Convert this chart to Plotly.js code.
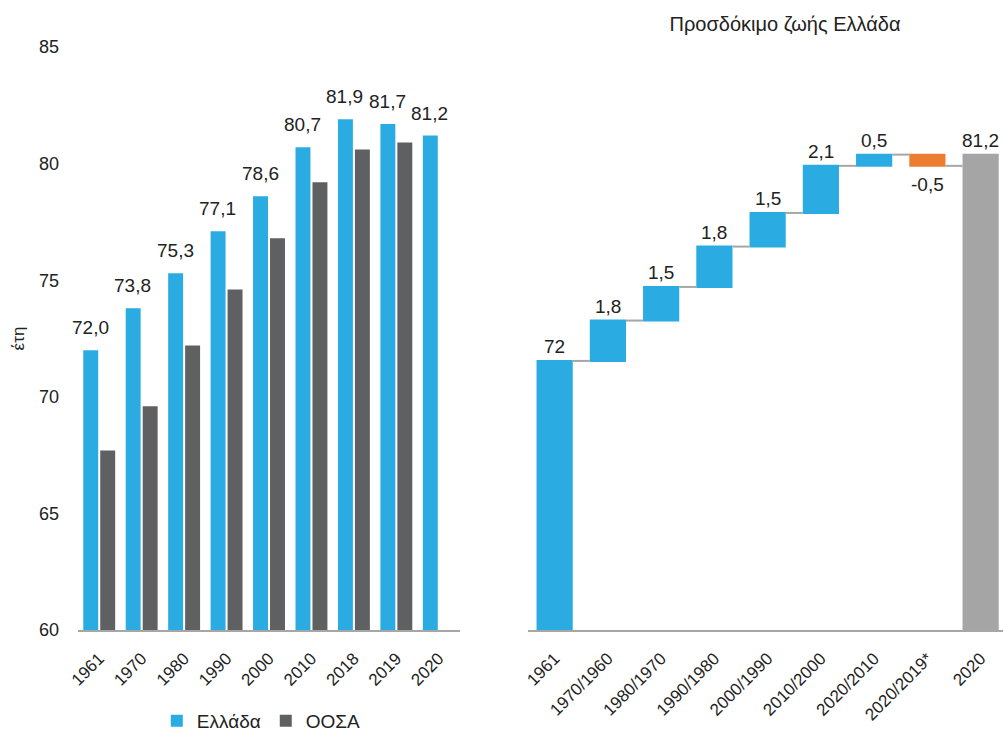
<!DOCTYPE html>
<html><head><meta charset="utf-8">
<script src="https://cdn.plot.ly/plotly-3.0.1.min.js"></script>
<style>html,body{margin:0;padding:0;background:#fff}#chart{width:1003px;height:740px}</style>
</head><body><div id="chart"></div>
<script>
// Left panel: life expectancy, Greece vs OECD
const years = ['1961','1970','1980','1990','2000','2010','2018','2019','2020'];
const greece = [72.0, 73.8, 75.3, 77.1, 78.6, 80.7, 81.9, 81.7, 81.2];
const oecd = [67.7, 69.6, 72.2, 74.6, 76.8, 79.2, 80.6, 80.9, null];
const yTicks = [60, 65, 70, 75, 80, 85];

// Right panel: waterfall for Greece
const wfCategories = ['1961','1970/1960','1980/1970','1990/1980','2000/1990','2010/2000','2020/2010','2020/2019*','2020'];
const wfValues = [72, 1.8, 1.5, 1.8, 1.5, 2.1, 0.5, -0.5, 81.2];
const wfMeasures = ['relative','relative','relative','relative','relative','relative','relative','relative','absolute'];

const BLUE = '#2aace2', DARK = '#5f6062', TOTAL = '#a5a5a5', ORANGE = '#ed7d31', AXIS = '#a6a6a6', TXT = '#222222';
const FONT = '"Liberation Sans", Arial, sans-serif';

const traces = [
  {type:'bar', name:'Ελλάδα', x:years, y:greece, marker:{color:BLUE}, xaxis:'x', yaxis:'y', hoverinfo:'x+y'},
  {type:'bar', name:'ΟΟΣΑ', x:years, y:oecd, marker:{color:DARK}, xaxis:'x', yaxis:'y', hoverinfo:'x+y'},
  {type:'waterfall', name:'Προσδόκιμο', x:wfCategories, y:wfValues, measure:wfMeasures,
   xaxis:'x2', yaxis:'y2', showlegend:false,
   increasing:{marker:{color:BLUE}}, decreasing:{marker:{color:ORANGE}}, totals:{marker:{color:TOTAL}},
   connector:{mode:'between', line:{color:AXIS, width:2}}, textinfo:'none', hoverinfo:'x+y'}
];

const annotations = [];
greece.forEach((v,i)=>{
  annotations.push({xref:'x', yref:'y', x:i, y:v, text:v.toFixed(1).replace('.',','),
    showarrow:false, yanchor:'bottom', xshift:-9, yshift:10, font:{size:19, color:TXT, family:FONT}});
});
let cum = 0;
wfValues.forEach((v,i)=>{
  let start, end;
  if (wfMeasures[i]==='absolute'){ start = 0; end = v; cum = v; }
  else { start = cum; end = cum + v; cum = end; }
  const label = String(v).replace('.',',');
  if (end >= start) {
    annotations.push({xref:'x2', yref:'y2', x:i, y:end, text:label, showarrow:false,
      yanchor:'bottom', yshift:2, font:{size:19, color:TXT, family:FONT}});
  } else {
    annotations.push({xref:'x2', yref:'y2', x:i, y:end, text:label, showarrow:false,
      yanchor:'top', yshift:-6, font:{size:19, color:TXT, family:FONT}});
  }
});

const layout = {
  width:1003, height:740,
  margin:{l:78, r:0, t:47, b:110},
  paper_bgcolor:'#fff', plot_bgcolor:'#fff',
  font:{family:FONT, color:TXT, size:18},
  separators:',.',
  barmode:'group', bargap:0.2, bargroupgap:0.12,
  waterfallgap:0.32,
  title:{text:'Προσδόκιμο ζωής Ελλάδα', x:785/1003, xanchor:'center', xref:'container',
    y:1-24/740, yanchor:'middle', font:{size:20, color:TXT, family:FONT}},
  xaxis:{domain:[0, 0.413], anchor:'y', type:'category', range:[-0.5, 8.5], showline:true, linecolor:AXIS, linewidth:2,
    ticks:'', tickangle:-45, tickfont:{size:17}, ticklabelstandoff:10, showgrid:false, zeroline:false},
  yaxis:{domain:[0,1], anchor:'x', range:[60,85], tickvals:yTicks, ticks:'', ticklabelstandoff:18,
    tickfont:{size:18}, showgrid:false, zeroline:false, showline:false,
    title:{text:'έτη', standoff:10, font:{size:17}}},
  xaxis2:{domain:[0.4865, 1], anchor:'y2', type:'category', range:[-0.5, 8.42], showline:true, linecolor:AXIS, linewidth:2,
    ticks:'', tickangle:-45, tickfont:{size:17}, ticklabelstandoff:10, showgrid:false, zeroline:false},
  yaxis2:{domain:[0,1], anchor:'x2', range:[60,86], visible:false, showgrid:false, zeroline:false},
  legend:{orientation:'h', xref:'paper', x:0.0852, xanchor:'left', yref:'container', y:0, yanchor:'bottom',
    font:{size:19}, itemwidth:30, traceorder:'normal'},
  annotations:annotations,
  showlegend:true
};

Plotly.newPlot('chart', traces, layout, {displayModeBar:false, staticPlot:true});
</script>
</body></html>
